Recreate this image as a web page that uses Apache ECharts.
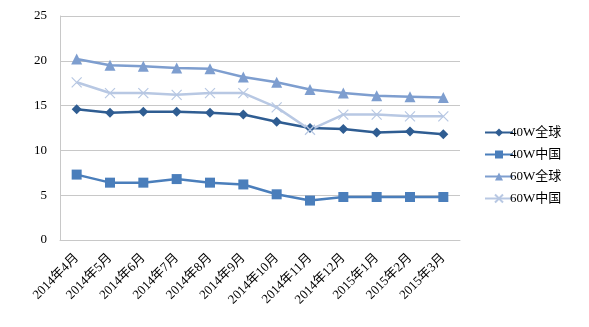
<!DOCTYPE html>
<html>
<head>
<meta charset="utf-8">
<script src="https://cdn.jsdelivr.net/npm/echarts@6/dist/echarts.min.js"></script>
<style>html,body{margin:0;padding:0;background:#fff}#c{width:589px;height:327px}</style>
</head>
<body>
<div id="c"></div>
<script>
const months = ['2014年4月','2014年5月','2014年6月','2014年7月','2014年8月','2014年9月','2014年10月','2014年11月','2014年12月','2015年1月','2015年2月','2015年3月'];
const w40Global = [14.6, 14.2, 14.3, 14.3, 14.2, 14.0, 13.2, 12.5, 12.4, 12.0, 12.1, 11.8];
const w40China  = [7.3, 6.4, 6.4, 6.8, 6.4, 6.2, 5.1, 4.4, 4.8, 4.8, 4.8, 4.8];
const w60Global = [20.2, 19.5, 19.4, 19.2, 19.1, 18.2, 17.6, 16.8, 16.4, 16.1, 16.0, 15.9];
const w60China  = [17.6, 16.4, 16.4, 16.2, 16.4, 16.4, 14.8, 12.3, 14.0, 14.0, 13.8, 13.8];
const yTicks = [0, 5, 10, 15, 20, 25];

const font = '"Liberation Serif", "Noto Sans CJK SC", serif';
const cross = 'path://M0,0L10,10M10,0L0,10';

function line(name, data, color, symbol, size, extra) {
  return Object.assign({
    name, type: 'line', data,
    symbol, symbolSize: size,
    lineStyle: { color, width: 2.5 },
    itemStyle: { color },
    emphasis: { disabled: true }
  }, extra || {});
}

const chart = echarts.init(document.getElementById('c'));
chart.setOption({
  animation: false,
  textStyle: { fontFamily: font },
  grid: { left: 60, right: 129, top: 16, bottom: 87 },
  legend: {
    orient: 'vertical', left: 479, top: 121, itemWidth: 28, itemHeight: 10, itemGap: 9,
    textStyle: { fontFamily: font, fontSize: 13, color: '#000', padding: [0, 0, 0, -8] },
    data: ['40W全球', '40W中国', '60W全球', '60W中国']
  },
  xAxis: {
    type: 'category', data: months, boundaryGap: true,
    axisLine: { lineStyle: { color: '#c8c8c8', width: 1 } },
    axisTick: { show: false },
    axisLabel: { rotate: 45, interval: 0, fontSize: 13, color: '#000', fontFamily: font, margin: 16 }
  },
  yAxis: {
    type: 'value', min: yTicks[0], max: yTicks[yTicks.length - 1], interval: 5,
    axisLine: { show: true, lineStyle: { color: '#c8c8c8' } },
    axisTick: { show: false },
    splitLine: { lineStyle: { color: '#c8c8c8' } },
    axisLabel: { fontSize: 13, color: '#000', fontFamily: font, margin: 13 }
  },
  series: [
    line('40W全球', w40Global, '#2f5d92', 'diamond', 10),
    line('40W中国', w40China, '#4a7ebb', 'rect', 10),
    line('60W全球', w60Global, '#7e9ecf', 'triangle', 11),
    line('60W中国', w60China, '#b8c8e3', cross, 10, {
      itemStyle: { color: 'none', borderColor: '#b8c8e3', borderWidth: 1.2 }
    })
  ]
});
</script>
</body>
</html>
